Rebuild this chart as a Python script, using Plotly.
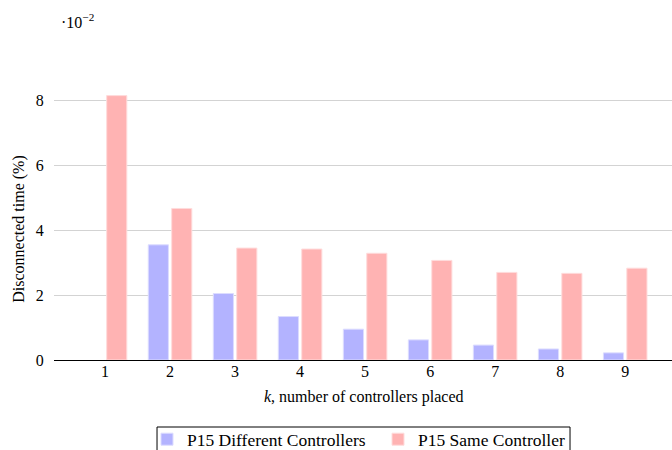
import plotly.graph_objects as go

k_values = [1, 2, 3, 4, 5, 6, 7, 8, 9]
different_controllers = [None, 3.55, 2.05, 1.34, 0.95, 0.62, 0.46, 0.34, 0.22]
same_controller = [8.15, 4.67, 3.45, 3.42, 3.29, 3.07, 2.70, 2.67, 2.83]
y_ticks = [0, 2, 4, 6, 8]

FONT = "'Liberation Serif', 'Times New Roman', Times, serif"

fig = go.Figure()
fig.add_trace(go.Bar(
    x=k_values, y=different_controllers, name="P15 Different Controllers",
    width=0.31, offset=-0.335,
    marker=dict(color="#b3b3ff", line=dict(color="#dcdcff", width=1)),
))
fig.add_trace(go.Bar(
    x=k_values, y=same_controller, name="P15 Same Controller",
    width=0.31, offset=0.025,
    marker=dict(color="#ffb3b3", line=dict(color="#ffdcdc", width=1)),
))

fig.update_layout(
    width=672, height=450,
    margin=dict(l=54, r=0, t=68, b=90, autoexpand=False),
    plot_bgcolor="white", paper_bgcolor="white",
    font=dict(family=FONT, size=16, color="black"),
    showlegend=True,
    legend=dict(
        orientation="h", x=(147 - 54) / 618, xanchor="left", y=-0.21, yanchor="top",
        borderwidth=0, bgcolor="rgba(0,0,0,0)", font=dict(family=FONT, size=17.5),
        traceorder="normal", itemwidth=30,
        entrywidth=186, entrywidthmode="pixels",
    ),
    xaxis=dict(
        range=[0.215, 9.72], tickmode="array", tickvals=k_values,
        ticks="", ticklabelstandoff=-3,
        showline=True, linecolor="black", linewidth=1.2,
        showgrid=False, zeroline=False, automargin=False,
        tickfont=dict(family=FONT, size=16),
    ),
    yaxis=dict(
        range=[0, 9], tickmode="array", tickvals=y_ticks,
        ticks="outside", ticklen=6, tickcolor="rgba(0,0,0,0)",
        showline=False, showgrid=True, gridcolor="#d3d3d3", gridwidth=1,
        zeroline=False, automargin=False,
        tickfont=dict(family=FONT, size=16),
    ),
    shapes=[dict(
        type="rect", xref="paper", yref="paper",
        x0=0.1667, x1=0.835, y0=-0.2295, y1=-0.33,
        line=dict(color="black", width=1), fillcolor="rgba(0,0,0,0)", layer="below",
    )],
    annotations=[
        dict(text="·10<sup>−2</sup>", xref="paper", yref="paper",
             x=0.008, y=1.16, xanchor="left", yanchor="middle",
             showarrow=False, font=dict(family=FONT, size=16)),
        dict(text="<i>k</i>, number of controllers placed", xref="paper", yref="paper",
             x=0.5, y=-0.125, xanchor="center", yanchor="middle",
             showarrow=False, font=dict(family=FONT, size=16)),
        dict(text="Disconnected time (%)", xref="paper", yref="paper",
             x=-0.058, y=0.45, xanchor="center", yanchor="middle", textangle=-90,
             showarrow=False, font=dict(family=FONT, size=16)),
    ],
)

fig.write_html("out.html", config={"displayModeBar": False},
               post_script="document.body.style.margin='0';document.body.style.overflow='hidden';")
